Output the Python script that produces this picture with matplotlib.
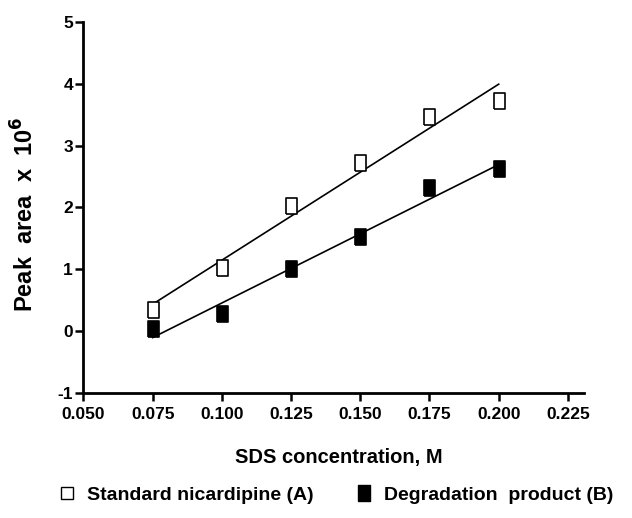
import matplotlib.pyplot as plt
import numpy as np

# SDS concentration (M) and peak areas (x 10^6)
sds = [0.075, 0.100, 0.125, 0.150, 0.175, 0.200]
std_nicardipine = [0.34, 1.02, 2.02, 2.72, 3.47, 3.72]
degradation = [0.03, 0.27, 1.00, 1.52, 2.32, 2.62]
x_ticks = [0.050, 0.075, 0.100, 0.125, 0.150, 0.175, 0.200, 0.225]
y_ticks = [-1, 0, 1, 2, 3, 4, 5]

font = 'Liberation Sans'

# tall rectangle marker like the original plot
rect = [(-0.72, -1), (0.72, -1), (0.72, 1), (-0.72, 1), (-0.72, -1)]

fig = plt.figure(figsize=(6.32, 5.18), dpi=100)
ax = fig.add_axes([0.132, 0.242, 0.792, 0.715])

for y, face in [(std_nicardipine, 'white'), (degradation, 'black')]:
    k, b = np.polyfit(sds, y, 1)
    xs = np.array([sds[0], sds[-1]])
    ax.plot(xs, k * xs + b, color='black', lw=1.2, zorder=2)
    ax.plot(sds, y, ls='none', marker=rect, ms=11, mfc=face, mec='black',
            mew=1.2, zorder=3)

ax.set_xlim(0.050, 0.2308)
ax.set_ylim(-1, 5)
ax.set_xticks(x_ticks)
ax.set_xticklabels(['%.3f' % v for v in x_ticks])
ax.set_yticks(y_ticks)
ax.set_yticklabels([str(v) for v in y_ticks])  # plain hyphen for -1
for s in ['top', 'right']:
    ax.spines[s].set_visible(False)
for s in ['left', 'bottom']:
    ax.spines[s].set_linewidth(2)
ax.tick_params(width=1.8, length=5.5, labelsize=12.5)
ax.tick_params(axis='x', pad=5)
ax.tick_params(axis='y', pad=2)
for lab in ax.get_xticklabels() + ax.get_yticklabels():
    lab.set_fontfamily(font)
    lab.set_fontweight('bold')

ax.set_xlabel('SDS concentration, M', fontfamily=font, fontweight='bold',
              fontsize=14.5)
ax.xaxis.set_label_coords(0.51, -0.15)
fig.text(25 / 632, 1 - 214 / 518, r'Peak  area  x  10$^{\mathbf{6}}$',
         rotation=90, ha='center', va='center', fontfamily=font,
         fontweight='bold', fontsize=17)

h1 = plt.Line2D([], [], ls='none', marker='s', ms=8, mfc='white', mec='black', mew=1)
h2 = plt.Line2D([], [], ls='none', marker=rect, ms=12, mfc='black', mec='black')
fig.legend([h1, h2], ['Standard nicardipine (A)', 'Degradation  product (B)'],
           loc='center left', bbox_to_anchor=(59 / 632, 0.0444), ncol=2,
           frameon=False, borderpad=0, borderaxespad=0,
           handlelength=0.8, handletextpad=0.64, columnspacing=2.17,
           prop={'family': font, 'weight': 'bold', 'size': 14})

fig.savefig('out.png', dpi=100)
